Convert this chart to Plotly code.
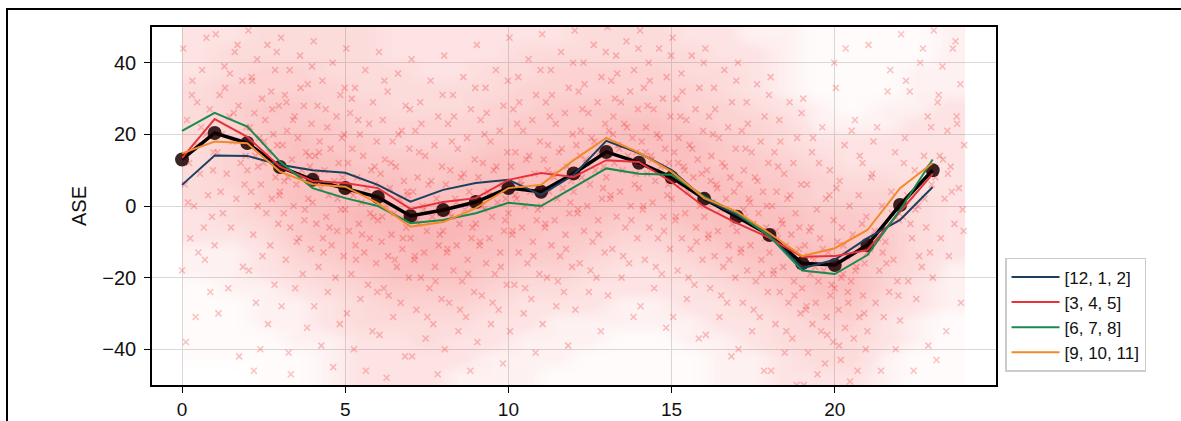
import plotly.graph_objects as go

hours = list(range(24))

mean_ase = [13.0, 20.4, 17.6, 10.9, 7.3, 5.0, 2.5, -2.8, -1.1, 1.1, 5.0, 4.0,
            9.1, 15.1, 12.1, 8.0, 2.0, -3.0, -8.1, -16.0, -16.5, -10.9, 0.3, 10.0]

season_names = ["[12, 1, 2]", "[3, 4, 5]", "[6, 7, 8]", "[9, 10, 11]"]
season_colors = ["#1b3f5e", "#e5333b", "#1a8a4c", "#f28a2a"]

winter = [5.9, 14.1, 14.0, 11.5, 10.0, 9.3, 5.9, 1.2, 4.5, 6.4, 7.3, 3.1,
          8.7, 18.2, 14.8, 10.0, 2.0, -2.5, -8.0, -17.4, -15.0, -9.0, -3.9, 5.3]
spring = [13.4, 24.3, 19.3, 11.0, 7.0, 6.4, 5.0, -0.8, 1.1, 2.2, 7.3, 9.2,
          8.1, 12.8, 12.3, 6.7, -0.2, -4.8, -8.9, -14.2, -14.0, -12.3, -1.6, 9.0]
summer = [21.0, 26.0, 22.2, 12.4, 5.0, 2.2, 0.0, -4.8, -3.9, -2.0, 0.9, 0.0,
          5.2, 10.5, 9.0, 8.7, 2.6, -2.0, -8.5, -18.0, -19.0, -13.7, -1.1, 13.0]
autumn = [14.7, 18.0, 17.5, 9.6, 6.1, 5.4, 0.8, -5.8, -4.5, -0.6, 5.0, 5.9,
          12.8, 19.0, 14.9, 9.6, 2.2, -1.6, -7.6, -14.0, -11.8, -6.7, 5.0, 12.0]
season_values = [winter, spring, summer, autumn]

# minute offsets (within the hour) of the sampled cloud points
cloud_minutes = [2, 37, 18, 51, 9, 44, 27, 58, 13, 33, 5, 48, 22, 55, 40, 15, 30, 0, 52, 25,
                 7, 45, 19, 35, 57, 11, 42, 28, 3, 50, 16, 38, 24, 54, 8, 46, 31, 20, 59, 12]

# sampled ASE values of the background cloud, one list per hour
cloud_y = [
    [44, 38, 31, 27, 24, 20, 17, 15, 12, 9, 6, 3, 0, -3, -6, -9, -13, -18, -24, -31, -38, 47, 35, 22, 10, 1, -15, 29],
    [48, 43, 39, 35, 31, 28, 25, 22, 20, 18, 15, 12, 9, 6, 2, -2, -6, -11, -17, -23, -30, -42, 33, 26, 14, 4, 45, 37],
    [49, 45, 41, 38, 35, 32, 30, 28, 26, 24, 22, 20, 19, 17, 15, 14, 12, 10, 8, 6, 4, 2, 0, -2, -5, -8, -11, -14, -18, -22, -27, -33, -40, 43, 36, 27, 18, 11, 3, -46],
    [47, 42, 38, 34, 31, 28, 25, 23, 21, 19, 17, 15, 13, 11, 10, 8, 6, 4, 2, 0, -2, -4, -6, -9, -12, -15, -19, -23, -28, -34, -41, 33, 24, 14, 7, -1, -10, -47, 39, 29],
    [46, 40, 35, 31, 28, 25, 22, 20, 18, 16, 14, 12, 10, 8, 7, 5, 3, 1, -1, -3, -5, -7, -9, -11, -14, -17, -20, -24, -28, -33, -39, -45, 27, 19, 9, 2, -6, -13, 33, 15],
    [44, 38, 33, 29, 26, 23, 20, 18, 16, 14, 12, 10, 8, 6, 5, 3, 1, -1, -3, -5, -7, -9, -11, -13, -16, -19, -22, -26, -30, -35, -40, -46, 24, 11, 4, -2, -8, -15, -24, 30],
    [43, 37, 32, 28, 24, 21, 18, 16, 13, 11, 9, 7, 5, 3, 2, 0, -2, -4, -6, -8, -10, -12, -14, -17, -20, -23, -27, -31, -36, -42, -48, 20, 12, 4, -3, -9, -15, -25, 27, 35],
    [41, 35, 29, 25, 21, 17, 14, 11, 8, 6, 4, 2, 0, -2, -3, -5, -7, -9, -11, -13, -15, -17, -20, -23, -26, -29, -33, -37, -42, -47, 15, 7, -1, -8, -14, -21, -31, 23, 31, -4],
    [42, 36, 31, 27, 23, 19, 16, 13, 10, 8, 6, 4, 2, 0, -1, -3, -5, -7, -9, -11, -13, -15, -18, -21, -24, -27, -31, -35, -40, -46, 18, 9, 1, -6, -12, -19, -29, 25, 33, -2],
    [45, 38, 33, 28, 24, 21, 18, 15, 12, 10, 8, 6, 4, 2, 1, -1, -3, -5, -7, -9, -11, -13, -16, -19, -22, -25, -29, -33, -38, -44, 20, 11, 3, -4, -10, -17, -27, 26, 35, 0],
    [47, 41, 36, 31, 27, 24, 21, 18, 15, 13, 11, 9, 7, 5, 4, 2, 0, -2, -4, -6, -8, -10, -13, -16, -19, -22, -26, -30, -35, -41, 23, 14, 6, -1, -7, -14, -23, 29, 38, 3],
    [48, 43, 38, 33, 29, 26, 23, 20, 17, 15, 13, 11, 9, 7, 5, 4, 2, 0, -2, -4, -6, -8, -11, -14, -17, -20, -24, -28, -33, -39, 25, 16, 8, 1, -5, -12, -21, 31, 40, 10],
    [49, 45, 40, 36, 32, 29, 26, 23, 21, 19, 17, 15, 13, 11, 10, 8, 6, 4, 2, 0, -2, -4, -7, -10, -13, -16, -20, -24, -29, -35, 27, 18, 12, 5, -1, -8, -18, 34, 43, 14],
    [50, 46, 42, 38, 35, 32, 29, 27, 25, 23, 21, 19, 17, 15, 14, 12, 10, 8, 6, 4, 2, 0, -3, -6, -9, -12, -16, -20, -25, -31, 30, 22, 16, 9, 3, -4, -14, 37, 44, 20],
    [49, 44, 40, 36, 33, 30, 27, 25, 22, 20, 18, 16, 14, 12, 11, 9, 7, 5, 3, 1, -1, -3, -6, -9, -12, -15, -19, -23, -28, -34, 28, 19, 13, 6, 0, -7, -17, 35, 42, 15],
    [47, 42, 37, 33, 30, 27, 24, 21, 19, 17, 15, 13, 11, 9, 8, 6, 4, 2, 0, -2, -4, -6, -9, -12, -15, -18, -22, -26, -31, -37, 25, 16, 10, 3, -3, -10, -20, 32, 40, 12],
    [44, 38, 33, 29, 25, 22, 19, 16, 14, 12, 10, 8, 6, 4, 2, 1, -1, -3, -5, -7, -9, -11, -14, -17, -20, -23, -27, -31, -36, -42, 20, 11, 5, -2, -8, -15, -25, 27, 35, 7],
    [40, 34, 29, 25, 21, 18, 15, 12, 10, 8, 6, 4, 2, 0, -2, -3, -5, -7, -9, -11, -13, -15, -18, -21, -24, -27, -31, -35, -40, -46, 16, 7, 1, -6, -12, -19, -29, 23, 31, -1],
    [36, 29, 24, 19, 15, 12, 9, 6, 4, 2, 0, -2, -4, -6, -8, -9, -11, -13, -15, -17, -19, -21, -24, -27, -30, -33, -37, -41, -46, -50, 11, 3, -5, -12, -18, -25, -35, 18, 26, -7],
    [30, 22, 15, 10, 6, 2, -1, -4, -7, -9, -11, -13, -15, -16, -18, -19, -21, -23, -25, -27, -29, -31, -33, -35, -38, -41, -44, -47, -50, 3, -6, -12, -17, -22, -28, -36, 12, 19, 40, -14],
    [33, 24, 17, 12, 7, 3, 0, -3, -6, -8, -10, -12, -14, -16, -17, -19, -21, -23, -25, -27, -29, -31, -34, -37, -40, -43, -46, -49, 5, -5, -11, -18, -24, -30, -39, 14, 21, 44, -13, -20],
    [45, 32, 22, 15, 9, 4, 0, -4, -7, -10, -12, -15, -18, -21, -24, -27, -31, -35, -40, -46, 8, -2, -9, -16, -25, 18, 38, -13],
    [48, 40, 32, 25, 19, 14, 10, 6, 3, 0, -3, -6, -9, -13, -17, -21, -26, -32, -39, -46, 12, 2, -5, -14, 22, 35, 44, -1],
    [49, 44, 39, 34, 29, 25, 21, 17, 14, 11, 8, 5, 2, -1, -5, -9, -14, -20, -27, -35, -43, 23, 13, 4, -7, 31, 46, 9],
]

# estimated point density of the full cloud (0-9), per hour, for ASE bins of 5
density_bins = [-47.5, -42.5, -37.5, -32.5, -27.5, -22.5, -17.5, -12.5, -7.5, -2.5,
                2.5, 7.5, 12.5, 17.5, 22.5, 27.5, 32.5, 37.5, 42.5, 47.5]
density_by_hour = [
    [0, 1, 1, 1, 1, 1, 2, 2, 3, 3, 4, 4, 4, 4, 4, 4, 4, 3, 3, 3],
    [0, 1, 1, 1, 1, 2, 2, 2, 3, 4, 4, 5, 5, 5, 5, 5, 5, 4, 4, 3],
    [1, 1, 1, 2, 2, 2, 3, 3, 4, 5, 6, 6, 6, 6, 6, 6, 5, 5, 4, 4],
    [1, 1, 2, 2, 2, 3, 4, 5, 6, 6, 7, 7, 7, 7, 6, 6, 5, 5, 4, 4],
    [2, 2, 2, 3, 3, 4, 5, 6, 7, 7, 7, 7, 7, 6, 6, 5, 5, 4, 4, 4],
    [3, 3, 3, 4, 4, 5, 6, 7, 7, 8, 7, 7, 6, 6, 5, 5, 4, 4, 4, 4],
    [3, 3, 3, 4, 5, 6, 7, 7, 8, 8, 7, 7, 6, 5, 5, 4, 4, 4, 3, 3],
    [3, 3, 4, 4, 5, 6, 7, 8, 8, 8, 7, 6, 6, 5, 5, 4, 4, 3, 3, 3],
    [2, 3, 3, 4, 5, 6, 7, 7, 8, 8, 7, 7, 6, 5, 5, 4, 4, 3, 3, 3],
    [2, 2, 3, 3, 4, 5, 6, 7, 7, 8, 8, 7, 7, 6, 5, 5, 4, 4, 3, 3],
    [2, 2, 2, 3, 3, 4, 5, 6, 7, 7, 8, 7, 7, 6, 6, 5, 5, 4, 4, 3],
    [1, 2, 2, 2, 3, 4, 5, 6, 6, 7, 7, 7, 7, 6, 6, 6, 5, 5, 4, 3],
    [1, 1, 2, 2, 3, 3, 4, 5, 6, 7, 7, 7, 7, 7, 6, 6, 5, 5, 4, 4],
    [1, 1, 1, 2, 2, 3, 3, 4, 5, 6, 7, 7, 7, 7, 7, 6, 5, 5, 4, 4],
    [1, 1, 1, 2, 2, 3, 3, 4, 5, 6, 7, 7, 7, 7, 7, 6, 5, 5, 4, 4],
    [1, 1, 2, 2, 3, 3, 4, 5, 6, 7, 7, 7, 7, 7, 6, 5, 5, 4, 4, 3],
    [2, 2, 2, 3, 3, 4, 5, 6, 7, 7, 7, 7, 6, 6, 5, 5, 4, 4, 3, 3],
    [2, 2, 3, 3, 4, 5, 6, 7, 7, 7, 7, 6, 6, 5, 5, 4, 3, 3, 3, 2],
    [3, 3, 4, 4, 5, 6, 7, 7, 7, 7, 6, 6, 5, 4, 4, 3, 2, 2, 2, 2],
    [3, 4, 4, 5, 6, 7, 7, 7, 6, 6, 5, 5, 4, 3, 2, 2, 1, 1, 1, 1],
    [3, 4, 4, 5, 6, 7, 7, 7, 6, 6, 5, 4, 3, 3, 2, 1, 1, 1, 1, 1],
    [2, 2, 3, 3, 4, 5, 5, 6, 6, 5, 5, 4, 3, 3, 2, 2, 1, 1, 1, 1],
    [1, 1, 2, 2, 3, 3, 4, 4, 4, 4, 4, 3, 3, 3, 3, 2, 2, 2, 1, 1],
    [1, 1, 1, 1, 2, 2, 2, 3, 3, 3, 3, 3, 3, 3, 3, 3, 2, 2, 2, 2],
]

x_ticks = [0, 5, 10, 15, 20]
y_ticks = [-40, -20, 0, 20, 40]

cloud_x, cloud_v = [], []
for h, vals in zip(hours, cloud_y):
    for i, v in enumerate(vals):
        cloud_x.append(h + cloud_minutes[i] / 60.0)
        cloud_v.append(v)

# heatmap z: rows = ASE bins, columns = hours
density_z = [[density_by_hour[h][b] for h in hours] for b in range(len(density_bins))]
hour_centers = [h + 0.5 for h in hours]

FONT = "Liberation Sans, Arial, sans-serif"

fig = go.Figure()

fig.add_trace(go.Heatmap(
    x=hour_centers, y=density_bins, z=density_z, zmin=0, zmax=9,
    zsmooth="best", showscale=False, hoverinfo="skip",
    colorscale=[[0.0, "rgba(255,255,255,0)"], [0.3, "rgba(242,70,70,0.14)"],
                [1.0, "rgba(238,50,50,0.40)"]],
))

fig.add_trace(go.Scatter(
    x=cloud_x, y=cloud_v, mode="markers", showlegend=False, hoverinfo="skip",
    marker=dict(symbol="x-thin", size=6, color="rgba(235,20,20,0.25)",
                line=dict(width=1.5, color="rgba(235,20,20,0.25)")),
))

fig.add_trace(go.Scatter(
    x=hours, y=mean_ase, mode="lines+markers", showlegend=False,
    line=dict(color="#000000", width=3.5),
    marker=dict(size=14, color="rgba(25,0,0,0.85)"),
))

for name, col, vals in zip(season_names, season_colors, season_values):
    fig.add_trace(go.Scatter(
        x=hours, y=vals, mode="lines", name=name,
        line=dict(color=col, width=2),
    ))

axis_common = dict(
    showline=True, linecolor="#000000", linewidth=1.5, mirror=True,
    ticks="outside", ticklen=6, tickwidth=1.2, tickcolor="#000000",
    showgrid=True, gridcolor="#d9d9d9", gridwidth=1.3, zeroline=False,
    automargin=False,
)

fig.update_xaxes(range=[-0.92, 24.94], tickvals=x_ticks, ticklabelstandoff=0,
                 tickfont=dict(family=FONT, size=19, color="#111111"), **axis_common)
fig.update_yaxes(range=[-50, 50], tickvals=y_ticks, ticklabelstandoff=4,
                 tickfont=dict(family=FONT, size=20, color="#111111"),
                 title=dict(text="ASE", font=dict(family=FONT, size=20, color="#111111"), standoff=10),
                 **axis_common)

fig.add_shape(type="rect", xref="paper", yref="paper",
              x0=-0.1718, x1=1.23, y0=-0.12, y1=1.0503,
              line=dict(color="#000000", width=2), fillcolor="rgba(0,0,0,0)", layer="below")

fig.update_layout(
    width=1181, height=421,
    margin=dict(l=152, r=185, t=27, b=36, autoexpand=False),
    paper_bgcolor="white", plot_bgcolor="white",
    font=dict(family=FONT, color="#111111"),
    legend=dict(x=1.0107, xanchor="left", y=0.355, yanchor="top",
                bgcolor="white", bordercolor="#cccccc", borderwidth=1.5,
                font=dict(family=FONT, size=17, color="#111111"),
                itemwidth=48, tracegroupgap=0),
)

fig.write_html("out.html")
